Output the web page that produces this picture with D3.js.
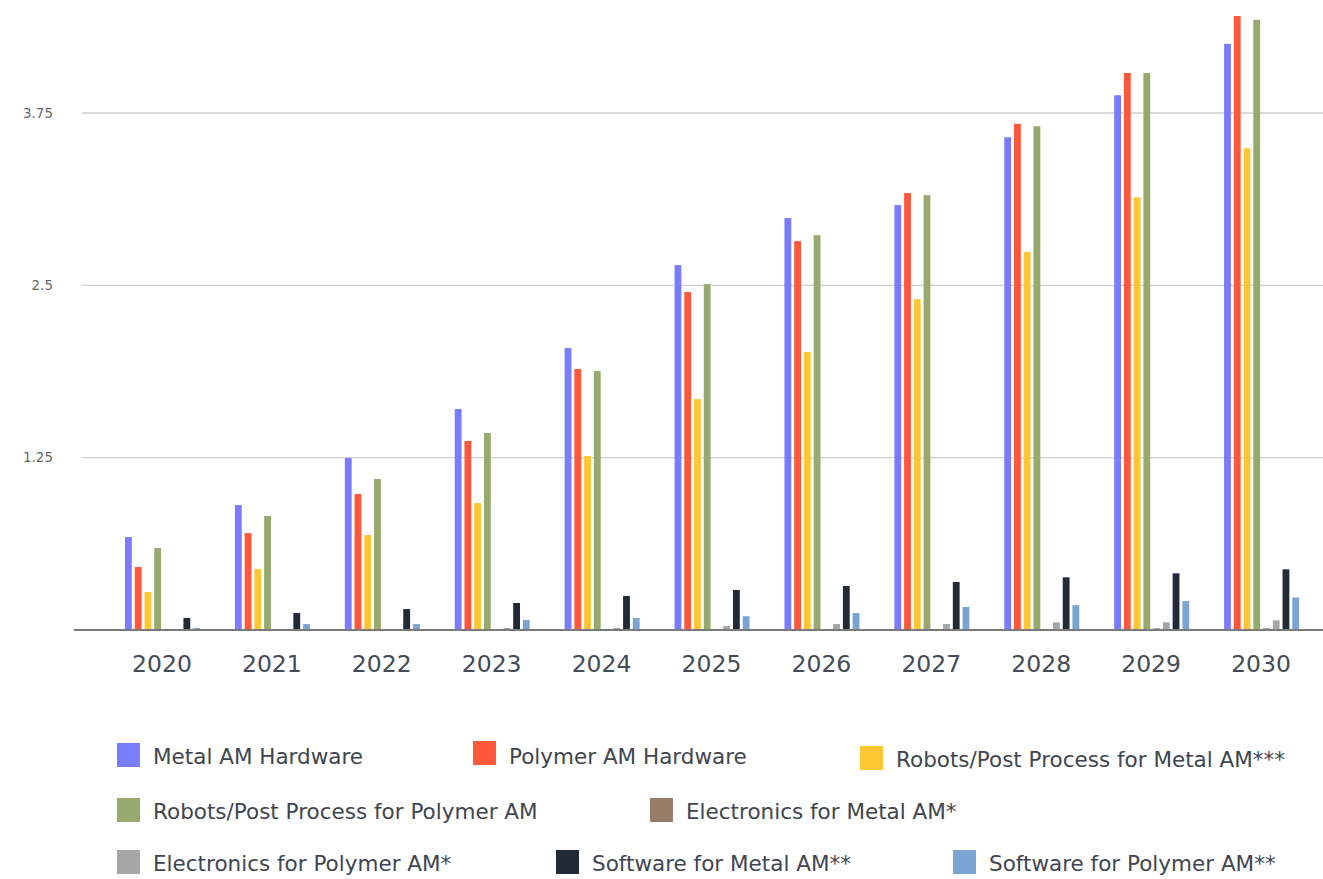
<!DOCTYPE html>
<html>
<head>
<meta charset="utf-8">
<script src="https://cdn.jsdelivr.net/npm/d3@7"></script>
<style>
  html, body { margin: 0; padding: 0; background: #fff; }
  #chart { width: 1323px; height: 879px; }
  text { font-family: "DejaVu Sans", sans-serif; }
</style>
</head>
<body>
<div id="chart"></div>
<script>
const years = ['2020', '2021', '2022', '2023', '2024', '2025', '2026', '2027', '2028', '2029', '2030'];

const seriesNames = [
  'Metal AM Hardware',
  'Polymer AM Hardware',
  'Robots/Post Process for Metal AM***',
  'Robots/Post Process for Polymer AM',
  'Electronics for Metal AM*',
  'Electronics for Polymer AM*',
  'Software for Metal AM**',
  'Software for Polymer AM**'
];

const seriesColors = ['#7a7cff', '#ff573b', '#ffc533', '#98a96d', '#967c69', '#a6a6a6', '#222a38', '#7ba3d3'];

// values, one array per series
const metalHardware    = [0.674, 0.906, 1.247, 1.603, 2.045, 2.647, 2.988, 3.082, 3.574, 3.879, 4.252];
const polymerHardware  = [0.457, 0.703, 0.986, 1.371, 1.893, 2.451, 2.821, 3.169, 3.671, 4.040, 4.453];
const robotsMetal      = [0.276, 0.442, 0.689, 0.921, 1.262, 1.675, 2.016, 2.400, 2.742, 3.138, 3.494];
const robotsPolymer    = [0.595, 0.827, 1.095, 1.429, 1.878, 2.509, 2.864, 3.154, 3.654, 4.040, 4.426];
const electronicsMetal = [0, 0, 0, 0, 0, 0, 0, 0, 0, 0.012, 0.012];
const electronicsPoly  = [0, 0, 0, 0.015, 0.015, 0.029, 0.043, 0.043, 0.056, 0.056, 0.070];
const softwareMetal    = [0.087, 0.123, 0.152, 0.196, 0.247, 0.290, 0.319, 0.348, 0.382, 0.411, 0.440];
const softwarePolymer  = [0.015, 0.043, 0.043, 0.073, 0.087, 0.100, 0.123, 0.167, 0.180, 0.210, 0.236];

const seriesValues = [metalHardware, polymerHardware, robotsMetal, robotsPolymer,
  electronicsMetal, electronicsPoly, softwareMetal, softwarePolymer];

const yTicks = [1.25, 2.5, 3.75];
const yTickLabels = ['1.25', '2.5', '3.75'];

const width = 1323, height = 879;

const svg = d3.select('#chart')
  .append('svg')
  .attr('width', width)
  .attr('height', height);

// Set the ranges
const x0 = d3.scaleBand()
  .domain(years)
  .range([107, 1316]);

const x1 = d3.scaleBand()
  .domain(seriesNames)
  .range([18, 93])
  .paddingInner(0.3);

const y = d3.scaleLinear()
  .domain([0, 3.75])
  .range([630, 113]);

// gridlines
svg.append('g')
  .attr('class', 'grid')
  .selectAll('line')
  .data(yTicks)
  .join('line')
  .attr('x1', 82)
  .attr('x2', width)
  .attr('y1', d => y(d))
  .attr('y2', d => y(d))
  .attr('stroke', '#cfcfcf')
  .attr('stroke-width', 1.3);

// y labels
svg.append('g')
  .selectAll('text')
  .data(yTicks)
  .join('text')
  .attr('x', 53)
  .attr('y', d => y(d))
  .attr('dy', '0.35em')
  .attr('text-anchor', 'end')
  .attr('font-size', 13.5)
  .attr('fill', '#666')
  .text((d, i) => yTickLabels[i]);

// bars
const groups = svg.append('g')
  .selectAll('g')
  .data(years)
  .join('g')
  .attr('transform', d => `translate(${x0(d)},0)`);

groups.selectAll('rect')
  .data((yr, yi) => seriesNames.map((s, si) => ({ s, si, v: seriesValues[si][yi] })))
  .join('rect')
  .attr('x', d => x1(d.s))
  .attr('width', x1.bandwidth())
  .attr('y', d => y(d.v))
  .attr('height', d => y(0) - y(d.v))
  .attr('fill', d => seriesColors[d.si]);

// x axis baseline
svg.append('line')
  .attr('x1', 74)
  .attr('x2', width)
  .attr('y1', y(0))
  .attr('y2', y(0))
  .attr('stroke', '#7a7a7a')
  .attr('stroke-width', 2);

// x labels
svg.append('g')
  .selectAll('text')
  .data(years)
  .join('text')
  .attr('x', d => x0(d) + x0.bandwidth() / 2)
  .attr('y', 672)
  .attr('text-anchor', 'middle')
  .attr('font-size', 23.5)
  .attr('fill', '#444b57')
  .text(d => d);

// legend: swatch x, swatch y, text centre y
const legendPos = [
  [117, 743, 756], [473, 741, 756], [860, 746, 759],
  [117, 798, 811], [650, 798, 811],
  [117, 850, 863], [556, 850, 863], [953, 850, 863]
];

const legend = svg.append('g')
  .selectAll('g')
  .data(seriesNames)
  .join('g')
  .attr('transform', (d, i) => `translate(${legendPos[i][0]},0)`);

legend.append('rect')
  .attr('y', (d, i) => legendPos[i][1])
  .attr('width', 23)
  .attr('height', 24)
  .attr('fill', (d, i) => seriesColors[i]);

legend.append('text')
  .attr('x', 36)
  .attr('y', (d, i) => legendPos[i][2])
  .attr('dy', '0.35em')
  .attr('font-size', 21.5)
  .attr('fill', '#3f4550')
  .text(d => d);
</script>
</body>
</html>
